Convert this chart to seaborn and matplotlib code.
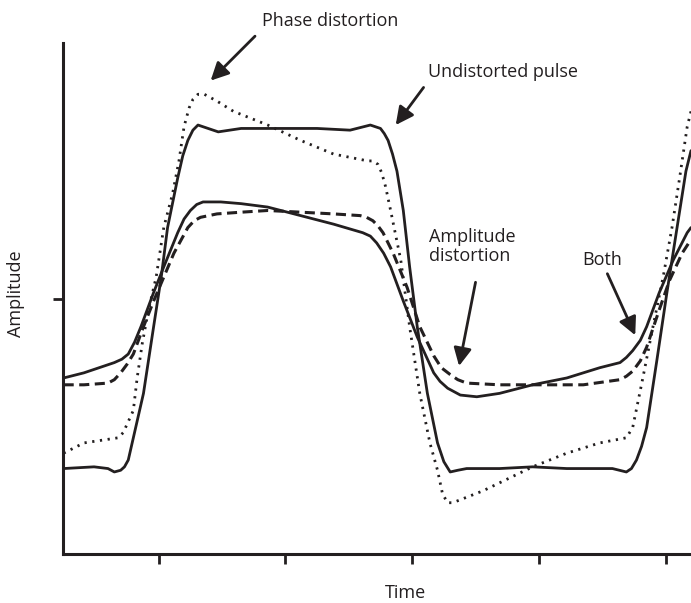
import numpy as np
import pandas as pd
import matplotlib
matplotlib.use("Agg")
import matplotlib.pyplot as plt
import seaborn as sns

# time in tick units, amplitude normalised to the undistorted pulse
undist_t = [0.25, 0.49, 0.60, 0.65, 0.70, 0.73, 0.76, 0.80, 0.88, 0.96, 1.02, 1.07, 1.15, 1.19, 1.23,
            1.27, 1.31, 1.47, 1.65, 1.98, 2.25, 2.51, 2.67, 2.75, 2.78, 2.81, 2.845, 2.88, 2.93, 2.98,
            3.04, 3.12, 3.20, 3.25, 3.30, 3.36, 3.43, 3.69, 3.95, 4.22, 4.58, 4.69, 4.73, 4.77, 4.81,
            4.85, 4.93, 5.01, 5.09, 5.16, 5.20]
undist_a = [-0.99, -0.98, -0.99, -1.01, -1.00, -0.98, -0.94, -0.81, -0.55, -0.16, 0.13, 0.42, 0.71, 0.84, 0.93,
            0.99, 1.02, 0.98, 1.00, 1.00, 1.00, 0.99, 1.02, 1.00, 0.97, 0.93, 0.85, 0.75, 0.52, 0.19,
            -0.16, -0.55, -0.84, -0.95, -1.01, -1.00, -0.99, -0.99, -0.98, -0.99, -0.99, -1.01, -0.99, -0.94, -0.86,
            -0.75, -0.36, 0.04, 0.42, 0.75, 0.87]

phase_t = [0.25, 0.41, 0.68, 0.72, 0.80, 0.83, 0.87, 0.92, 0.98, 1.04, 1.11, 1.16, 1.20, 1.24, 1.27,
           1.31, 1.36, 1.46, 1.59, 1.86, 2.12, 2.38, 2.65, 2.69, 2.73, 2.76, 2.79, 2.83, 2.91, 2.98,
           3.06, 3.14, 3.20, 3.24, 3.28, 3.32, 3.56, 3.95, 4.22, 4.48, 4.69, 4.74, 4.82, 4.90, 4.98,
           5.05, 5.11, 5.17, 5.20]
phase_a = [-0.90, -0.84, -0.81, -0.78, -0.65, -0.46, -0.26, -0.06, 0.13, 0.42, 0.62, 0.81, 1.01, 1.12, 1.17,
           1.20, 1.20, 1.16, 1.10, 1.02, 0.93, 0.85, 0.81, 0.81, 0.79, 0.74, 0.66, 0.52, 0.23, -0.16,
           -0.55, -0.84, -1.00, -1.14, -1.19, -1.19, -1.12, -0.98, -0.90, -0.84, -0.81, -0.75, -0.46, -0.16, 0.13,
           0.42, 0.71, 1.01, 1.10]

ampl_t = [0.25, 0.41, 0.60, 0.65, 0.70, 0.75, 0.80, 0.88, 0.96, 1.04, 1.12, 1.23, 1.28, 1.33, 1.46,
          1.65, 1.86, 2.12, 2.38, 2.59, 2.64, 2.69, 2.73, 2.77, 2.85, 2.96, 3.06, 3.17, 3.23, 3.30,
          3.36, 3.43, 3.69, 3.95, 4.35, 4.64, 4.69, 4.74, 4.80, 4.85, 4.95, 5.03, 5.13, 5.20]
ampl_a = [-0.50, -0.50, -0.49, -0.47, -0.43, -0.38, -0.32, -0.16, -0.01, 0.13, 0.27, 0.42, 0.46, 0.48, 0.50,
          0.51, 0.52, 0.51, 0.50, 0.49, 0.48, 0.46, 0.43, 0.39, 0.27, 0.07, -0.16, -0.33, -0.40, -0.44,
          -0.47, -0.49, -0.50, -0.50, -0.50, -0.47, -0.45, -0.42, -0.36, -0.28, -0.06, 0.11, 0.27, 0.35]

both_t = [0.25, 0.41, 0.65, 0.71, 0.76, 0.81, 0.86, 0.96, 1.04, 1.15, 1.20, 1.25, 1.30, 1.35, 1.49,
          1.65, 1.86, 2.12, 2.38, 2.61, 2.67, 2.72, 2.775, 2.83, 2.93, 3.04, 3.17, 3.22, 3.28, 3.38,
          3.51, 3.69, 3.95, 4.22, 4.48, 4.64, 4.69, 4.74, 4.80, 4.85, 4.95, 5.06, 5.17, 5.20]
both_a = [-0.46, -0.43, -0.37, -0.35, -0.32, -0.25, -0.16, 0.04, 0.19, 0.39, 0.47, 0.52, 0.555, 0.57, 0.57,
          0.56, 0.54, 0.49, 0.44, 0.39, 0.37, 0.33, 0.27, 0.19, -0.01, -0.22, -0.43, -0.48, -0.52, -0.56,
          -0.57, -0.55, -0.50, -0.46, -0.40, -0.37, -0.34, -0.30, -0.24, -0.16, 0.04, 0.23, 0.39, 0.42]

ink = "#231f20"

sns.set_style("ticks")
plt.rcParams['font.family'] = ['Open Sans', 'DejaVu Sans']

fig = plt.figure(figsize=(6.91, 6.03), dpi=100)
ax = fig.add_axes([63 / 691, 49 / 603, 628 / 691, 511 / 603])

line_kw = dict(ax=ax, color=ink, estimator=None, sort=False)
sns.lineplot(x=undist_t, y=undist_a, lw=2.0, **line_kw)
sns.lineplot(x=phase_t, y=phase_a, lw=2.0, linestyle=(0, (0.8, 2.0)), **line_kw)
sns.lineplot(x=ampl_t, y=ampl_a, lw=2.2, linestyle=(0, (3.3, 1.8)), **line_kw)
sns.lineplot(x=both_t, y=both_a, lw=2.0, **line_kw)

ax.set_xlim(0.245, 5.2)
ax.set_ylim(-1.49, 1.5)
ax.set_xticks([1, 2, 3, 4, 5])
ax.set_yticks([0])
ax.set_xticklabels([])
ax.set_yticklabels([])
ax.tick_params(direction='out', length=7.5, width=2, color=ink)
sns.despine(ax=ax)
for s in ['left', 'bottom']:
    ax.spines[s].set_linewidth(2.2)
    ax.spines[s].set_color(ink)

fs = 13
ax.set_xlabel('Time', fontsize=fs, color=ink)
ax.xaxis.set_label_coords(0.545, -0.058)
ax.set_ylabel('Amplitude', fontsize=fs, color=ink)
ax.yaxis.set_label_coords(-0.06, 0.51)

arrow = dict(arrowstyle='-|>,head_length=0.6,head_width=0.3', lw=2.0, color=ink,
             mutation_scale=18, shrinkA=0, shrinkB=0)
ax.annotate('', xy=(1.41, 1.28), xytext=(1.76, 1.54), arrowprops=arrow, annotation_clip=False)
ax.text(2.35, 1.63, 'Phase distortion', ha='center', va='center', fontsize=fs, color=ink, clip_on=False)
ax.annotate('', xy=(2.87, 1.02), xytext=(3.09, 1.24), arrowprops=arrow, annotation_clip=False)
ax.text(3.72, 1.33, 'Undistorted pulse', ha='center', va='center', fontsize=fs, color=ink)
ax.annotate('', xy=(3.37, -0.39), xytext=(3.50, 0.10), arrowprops=arrow, annotation_clip=False)
ax.text(3.13, 0.31, 'Amplitude\ndistortion', ha='left', va='center', fontsize=fs, color=ink,
        linespacing=1.05)
ax.annotate('', xy=(4.76, -0.21), xytext=(4.54, 0.15), arrowprops=arrow, annotation_clip=False)
ax.text(4.50, 0.23, 'Both', ha='center', va='center', fontsize=fs, color=ink)

fig.savefig('out.png', dpi=100)
